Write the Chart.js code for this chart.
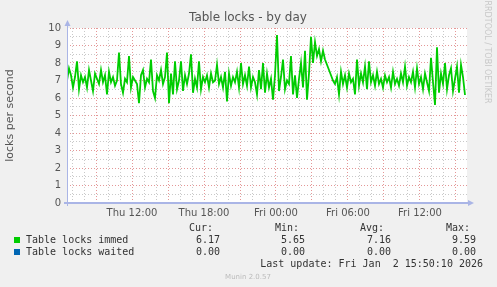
<!DOCTYPE html>
<html>
<head>
<meta charset="utf-8">
<script src="https://cdn.jsdelivr.net/npm/chart.js@4/dist/chart.umd.min.js"></script>
<style>
  html, body { margin: 0; padding: 0; background: #f0f0f0; overflow: hidden; }
</style>
</head>
<body>
<canvas id="myChart" width="497" height="287"></canvas>
<script>
// sample times are hours since Thu 00:00, one sample every 10 minutes
const startHour = 6.5833;
const stepHours = 1 / 6;
const endHour = 39.9167;

// Table locks immed (locks per second)
const immed = [
  7.0, 7.7, 7.3, 6.6, 7.2, 8.1, 6.5, 7.3, 6.9, 7.2,
  6.6, 7.6, 7.0, 6.4, 7.4, 7.1, 6.8, 7.6, 6.9, 7.3,
  6.2, 7.5, 6.9, 7.2, 6.7, 7.0, 8.6, 6.8, 6.3, 7.1,
  6.9, 8.4, 6.6, 7.2, 7.0, 6.8, 5.7, 7.3, 7.6, 6.6,
  7.1, 6.9, 8.2, 6.4, 6.0, 7.3, 7.0, 7.6, 6.8, 7.2,
  8.6, 5.7, 7.4, 6.2, 8.1, 6.5, 7.0, 8.1, 6.4, 7.3,
  6.8, 7.4, 8.5, 6.3, 7.1, 6.6, 8.1, 6.5, 7.2, 6.9,
  7.3, 6.6, 7.4, 6.9, 7.0, 7.9, 6.8, 7.2, 6.6, 7.5,
  5.8, 7.4, 6.7, 7.2, 6.9, 7.5, 6.6, 8.0, 6.8, 7.3,
  6.7, 7.8, 6.6, 7.2, 6.9, 6.2, 7.6, 6.5, 8.0, 6.3,
  7.4, 6.6, 7.1, 5.9, 7.3, 9.6, 6.4, 7.2, 8.2, 6.5,
  7.0, 6.8, 8.4, 6.2, 7.3, 6.0, 7.1, 8.0, 6.6, 8.7,
  5.9, 7.4, 9.5, 8.0, 9.2, 8.4, 8.8, 8.1, 8.7, 8.2,
  7.9, 7.6, 7.3, 7.0, 6.8, 7.2, 6.2, 7.5, 6.8, 7.3,
  6.6, 7.4, 6.9, 7.1, 6.2, 8.2, 6.7, 7.4, 6.9, 7.8,
  6.5, 8.1, 6.9, 7.3, 6.7, 7.5, 6.8, 7.1, 6.6, 7.3,
  6.9, 7.2, 6.6, 7.5, 6.8, 7.1, 6.7, 7.4, 6.9, 7.8,
  6.7, 7.2, 6.9, 7.5, 6.6, 7.7, 6.8, 7.2, 6.5, 7.4,
  6.9, 6.4, 8.3, 6.9, 5.6, 8.9, 6.3, 7.4, 6.8, 8.0,
  6.5, 7.3, 7.7, 6.4, 7.1, 7.8, 6.3, 7.9, 7.2, 6.17
];
// Table locks waited: flat zero
const waited = immed.map(() => 0);

const xTickText = { 12: 'Thu 12:00', 18: 'Thu 18:00', 24: 'Fri 00:00', 30: 'Fri 06:00', 36: 'Fri 12:00' };
const hourLines = [7, 8, 9, 10, 11, 12, 13, 14, 15, 16, 17, 18, 19, 20, 21, 22, 23, 24, 25, 26, 27, 28, 29, 30, 31, 32, 33, 34, 35, 36, 37, 38, 39];
const yLines = [0, 0.5, 1, 1.5, 2, 2.5, 3, 3.5, 4, 4.5, 5, 5.5, 6, 6.5, 7, 7.5, 8, 8.5, 9, 9.5, 10];

const legendRows = [
  { name: 'Table locks immed', color: '#00cc00', cur: '6.17', min: '5.65', avg: '7.16', max: '9.59' },
  { name: 'Table locks waited', color: '#0066b3', cur: '0.00', min: '0.00', avg: '0.00', max: '0.00' }
];

const RED = 'rgba(225, 140, 140, 0.9)';
const GREY = 'rgba(195, 195, 195, 0.9)';
const AXIS = '#aab5e6';

function toPoints(arr) {
  return arr.map((v, i) => ({ x: startHour + i * stepHours, y: v }));
}

const munin = {
  id: 'munin',
  beforeDraw(chart) {
    const c = chart.ctx, a = chart.chartArea;
    c.save();
    c.fillStyle = '#f0f0f0';
    c.fillRect(0, 0, chart.width, chart.height);
    c.fillStyle = '#ffffff';
    c.fillRect(a.left, a.top, a.right - a.left, a.bottom - a.top);
    c.restore();
  },
  afterDraw(chart) {
    const c = chart.ctx, a = chart.chartArea;
    c.save();
    // axes with arrows (drawn over the zero line)
    c.fillStyle = AXIS;
    c.fillRect(a.left, a.top - 4, 1, a.bottom - a.top + 7);
    c.fillRect(a.left - 3, a.bottom - 1, a.right - a.left + 7, 2);
    c.beginPath();
    c.moveTo(a.left + 0.5, a.top - 8);
    c.lineTo(a.left - 2.5, a.top - 2);
    c.lineTo(a.left + 3.5, a.top - 2);
    c.closePath();
    c.fill();
    c.beginPath();
    c.moveTo(a.right + 7, a.bottom);
    c.lineTo(a.right + 1, a.bottom - 3);
    c.lineTo(a.right + 1, a.bottom + 3);
    c.closePath();
    c.fill();

    // title
    c.fillStyle = '#555';
    c.font = '12px "DejaVu Sans"';
    c.textAlign = 'center';
    c.textBaseline = 'middle';
    c.fillText('Table locks - by day', 248, 18);

    // y label
    c.save();
    c.translate(10, (a.top + a.bottom) / 2);
    c.rotate(-Math.PI / 2);
    c.font = '11px "DejaVu Sans"';
    c.fillStyle = '#555';
    c.fillText('locks per second', 0, 0);
    c.restore();

    // rrdtool credit
    c.save();
    c.translate(487, 52);
    c.rotate(Math.PI / 2);
    c.font = '8px "DejaVu Sans"';
    c.fillStyle = '#c8c8c8';
    c.fillText('RRDTOOL / TOBI OETIKER', 0, 0);
    c.restore();

    // legend
    c.font = '10px "DejaVu Sans Mono"';
    c.fillStyle = '#333';
    c.textAlign = 'right';
    c.fillText('Cur:', 213, 228);
    c.fillText('Min:', 299, 228);
    c.fillText('Avg:', 384, 228);
    c.fillText('Max:', 470, 228);
    legendRows.forEach((r, i) => {
      const y = 240 + i * 12;
      c.fillStyle = r.color;
      c.fillRect(14, y - 3, 6, 6);
      c.fillStyle = '#333';
      c.textAlign = 'left';
      c.fillText(r.name, 26, y);
      c.textAlign = 'right';
      c.fillText(r.cur, 220, y);
      c.fillText(r.min, 305, y);
      c.fillText(r.avg, 391, y);
      c.fillText(r.max, 476, y);
    });
    c.fillText('Last update: Fri Jan  2 15:50:10 2026', 483, 264);

    c.textAlign = 'center';
    c.font = '7px "DejaVu Sans"';
    c.fillStyle = '#bbbbbb';
    c.fillText('Munin 2.0.57', 248, 277);
    c.restore();
  }
};

const config = {
  type: 'line',
  data: {
    datasets: [
      { label: 'Table locks waited', data: toPoints(waited), borderColor: '#0066b3', borderWidth: 1, pointRadius: 0 },
      { label: 'Table locks immed', data: toPoints(immed), borderColor: '#00cc00', borderWidth: 1.8, pointRadius: 0, tension: 0 }
    ]
  },
  options: {
    responsive: false,
    animation: false,
    devicePixelRatio: 1,
    layout: { padding: { left: 0, top: 28, right: 30, bottom: 64 } },
    plugins: { legend: { display: false }, title: { display: false }, tooltip: { enabled: false } },
    scales: {
      x: {
        type: 'linear',
        min: startHour,
        max: endHour,
        afterFit: s => { s.height = 20; },
        afterBuildTicks: s => { s.ticks = hourLines.map(v => ({ value: v })); },
        grid: {
          drawTicks: false,
          lineWidth: 1,
          color: ctx => (ctx.tick && ctx.tick.value % 3 === 0) ? RED : GREY
        },
        border: { display: false, dash: [1, 2] },
        ticks: {
          autoSkip: false,
          maxRotation: 0,
          padding: 4,
          color: '#555',
          font: { family: 'DejaVu Sans', size: 10 },
          callback: v => xTickText[v] || ''
        }
      },
      y: {
        min: 0,
        max: 10,
        afterFit: s => { s.width = 67; },
        afterBuildTicks: s => { s.ticks = yLines.map(v => ({ value: v })); },
        grid: {
          drawTicks: false,
          lineWidth: 1,
          color: ctx => (ctx.tick && Number.isInteger(ctx.tick.value)) ? RED : GREY
        },
        border: { display: false, dash: [1, 2] },
        ticks: {
          autoSkip: false,
          padding: 6,
          color: '#555',
          font: { family: 'DejaVu Sans', size: 10 },
          callback: v => Number.isInteger(v) ? String(v) : ''
        }
      }
    }
  },
  plugins: [munin]
};

const myChart = new Chart(document.getElementById('myChart'), config);
</script>
</body>
</html>
